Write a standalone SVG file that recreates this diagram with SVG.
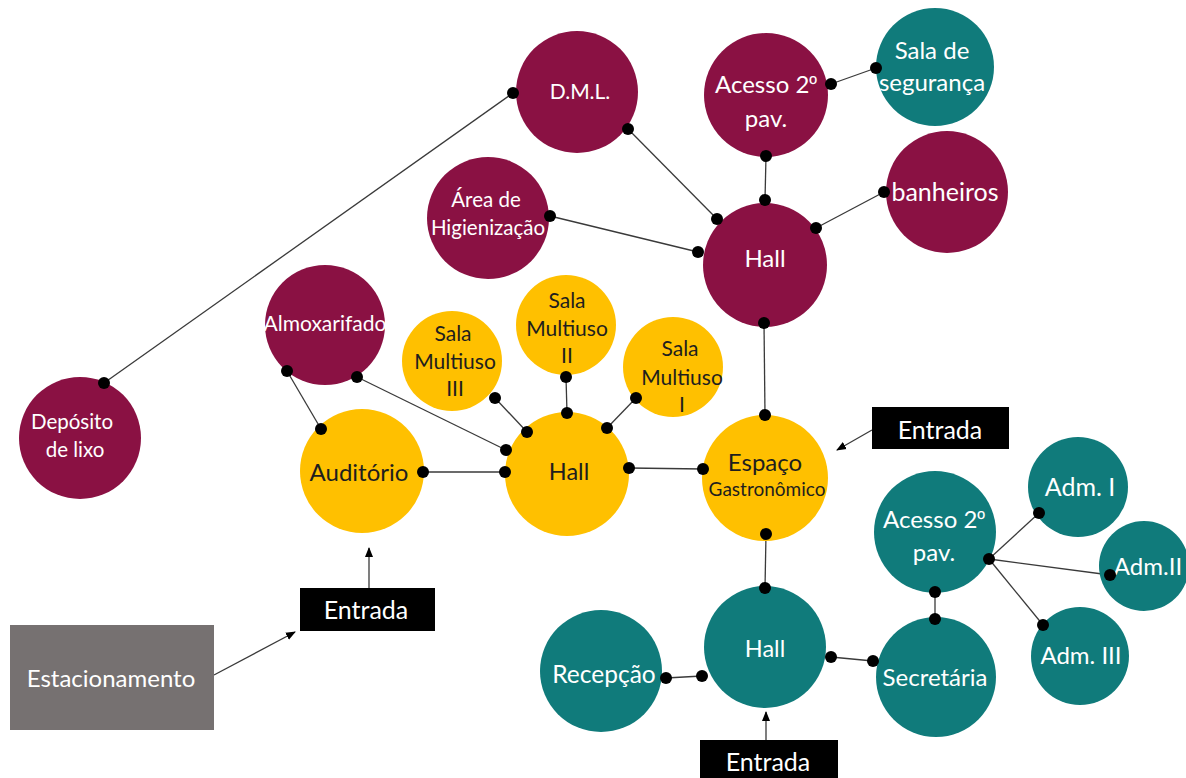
<svg xmlns="http://www.w3.org/2000/svg" width="1186" height="778" viewBox="0 0 1186 778">
<style>
.m{fill:#8A1143}
.y{fill:#FFC000}
.t{fill:#107B7B}
.w{fill:#FFFFFF}
.k{fill:#1E1E1E}
text{font-family:Lato,"Open Sans",sans-serif;text-anchor:middle;dominant-baseline:central}
.o{font-family:"Liberation Sans","DejaVu Sans",sans-serif}
.ln{stroke:#3A3A3A;stroke-width:1.3;fill:none}
.dot{fill:#000}
.box{fill:#000}
</style>
<defs>
<marker id="ah" markerWidth="10" markerHeight="10" refX="9" refY="5" orient="auto" markerUnits="userSpaceOnUse">
<path d="M0,1 L10,5 L0,9 Z" fill="#000"/>
</marker>
</defs>
<rect width="1186" height="778" fill="#fff"/>

<g id="connectors">
<line class="ln" x1="104" y1="383" x2="513" y2="93"/>
<line class="ln" x1="628" y1="129" x2="717" y2="219"/>
<line class="ln" x1="550" y1="216" x2="698" y2="252"/>
<line class="ln" x1="766" y1="156" x2="765" y2="200"/>
<line class="ln" x1="831" y1="84" x2="876" y2="68"/>
<line class="ln" x1="816" y1="228" x2="884" y2="192"/>
<line class="ln" x1="764" y1="323" x2="765" y2="415"/>
<line class="ln" x1="287" y1="371" x2="321" y2="429"/>
<line class="ln" x1="357" y1="377" x2="506" y2="450"/>
<line class="ln" x1="495" y1="398" x2="527" y2="432"/>
<line class="ln" x1="566" y1="377" x2="567" y2="413"/>
<line class="ln" x1="636" y1="398" x2="607" y2="428"/>
<line class="ln" x1="423" y1="472" x2="505" y2="472"/>
<line class="ln" x1="629" y1="468" x2="703" y2="469"/>
<line class="ln" x1="766" y1="534" x2="765" y2="588"/>
<line class="ln" x1="666" y1="678" x2="702" y2="676"/>
<line class="ln" x1="831" y1="657" x2="873" y2="661"/>
<line class="ln" x1="935" y1="592" x2="935" y2="619"/>
<line class="ln" x1="989" y1="559" x2="1039" y2="513"/>
<line class="ln" x1="989" y1="559" x2="1110" y2="575"/>
<line class="ln" x1="989" y1="559" x2="1043" y2="625"/>
<line class="ln" x1="369" y1="588" x2="369" y2="548" marker-end="url(#ah)"/>
<line class="ln" x1="214" y1="675" x2="295" y2="632" marker-end="url(#ah)"/>
<line class="ln" x1="872" y1="430" x2="837" y2="450" marker-end="url(#ah)"/>
<line class="ln" x1="766" y1="740" x2="766" y2="712" marker-end="url(#ah)"/>
</g>

<g id="n-dml"><circle class="m" cx="577" cy="92" r="61"/><text class="w" x="580" y="90" font-size="21">D.M.L.</text></g>
<g id="n-acesso-m"><circle class="m" cx="766" cy="95" r="62"/><text class="w" x="766" y="83" font-size="24">Acesso 2<tspan class="o" font-size="21">º</tspan></text><text class="w" x="766" y="117" font-size="24">pav.</text></g>
<g id="n-seguranca"><circle class="t" cx="935" cy="67" r="59"/><text class="w" x="932" y="49" font-size="24">Sala de</text><text class="w" x="932" y="81" font-size="24">segurança</text></g>
<g id="n-banheiros"><circle class="m" cx="947" cy="192" r="61"/><text class="w" x="945" y="191" font-size="25">banheiros</text></g>
<g id="n-hall-m"><circle class="m" cx="765" cy="265" r="62"/><text class="w" x="765" y="257" font-size="24">Hall</text></g>
<g id="n-area"><circle class="m" cx="488" cy="218" r="61"/><text class="w" x="486" y="199" font-size="20.5">Área de</text><text class="w" x="488" y="227" font-size="20.5">Higienização</text></g>
<g id="n-almox"><circle class="m" cx="325" cy="325" r="60"/><text class="w" x="325" y="322" font-size="21">Almoxarifado</text></g>
<g id="n-deposito"><circle class="m" cx="80" cy="438" r="61"/><text class="w" x="72" y="421" font-size="20.5">Depósito</text><text class="w" x="75" y="449" font-size="20.5">de lixo</text></g>

<g id="n-sala3"><circle class="y" cx="452" cy="361" r="50"/><text class="k" x="453" y="332" font-size="21">Sala</text><text class="k" x="455" y="360" font-size="21">Multiuso</text><text class="k" x="455" y="387" font-size="21">III</text></g>
<g id="n-sala2"><circle class="y" cx="566" cy="325" r="50"/><text class="k" x="567" y="299" font-size="21">Sala</text><text class="k" x="567" y="327" font-size="21">Multiuso</text><text class="k" x="567" y="354" font-size="21">II</text></g>
<g id="n-sala1"><circle class="y" cx="673" cy="367" r="50"/><text class="k" x="680" y="347" font-size="21">Sala</text><text class="k" x="682" y="376" font-size="21">Multiuso</text><text class="k" x="682" y="403" font-size="21">I</text></g>
<g id="n-auditorio"><circle class="y" cx="362" cy="471" r="62"/><text class="k" x="359" y="471" font-size="24">Auditório</text></g>
<g id="n-hall-y"><circle class="y" cx="567" cy="474" r="62"/><text class="k" x="569" y="471" font-size="23.5">Hall</text></g>
<g id="n-espaco"><circle class="y" cx="765" cy="478" r="63"/><text class="k" x="765" y="461" font-size="24">Espaço</text><text class="k" x="767" y="488" font-size="19">Gastronômico</text></g>

<g id="n-hall-t"><circle class="t" cx="765" cy="647" r="61"/><text class="w" x="765" y="648" font-size="23.5">Hall</text></g>
<g id="n-recepcao"><circle class="t" cx="601" cy="671" r="61"/><text class="w" x="604" y="673" font-size="24.5">Recepção</text></g>
<g id="n-secretaria"><circle class="t" cx="936" cy="677" r="60"/><text class="w" x="935" y="676" font-size="24">Secretária</text></g>
<g id="n-acesso-t"><circle class="t" cx="935" cy="532" r="61"/><text class="w" x="934" y="518" font-size="24">Acesso 2<tspan class="o" font-size="21">º</tspan></text><text class="w" x="934" y="551" font-size="24">pav.</text></g>
<g id="n-adm1"><circle class="t" cx="1078" cy="487" r="50"/><text class="w" x="1080" y="486" font-size="25">Adm. I</text></g>
<g id="n-adm2"><circle class="t" cx="1144" cy="566" r="45"/><text class="w" x="1148" y="565" font-size="24">Adm.II</text></g>
<g id="n-adm3"><circle class="t" cx="1080" cy="656" r="49"/><text class="w" x="1081" y="654" font-size="24">Adm. III</text></g>

<g id="n-entrada1"><rect class="box" x="300" y="588" width="135" height="43"/><text class="w" x="366" y="609" font-size="25">Entrada</text></g>
<g id="n-entrada2"><rect class="box" x="872" y="407" width="137" height="42"/><text class="w" x="940" y="429" font-size="25">Entrada</text></g>
<g id="n-entrada3"><rect class="box" x="700" y="740" width="138" height="40"/><text class="w" x="768" y="761" font-size="25">Entrada</text></g>
<g id="n-estacionamento"><rect x="10" y="625" width="204" height="105" fill="#767171"/><text class="w" x="111" y="677" font-size="24">Estacionamento</text></g>

<g id="dots">
<circle class="dot" cx="104" cy="383" r="6"/><circle class="dot" cx="513" cy="93" r="6"/>
<circle class="dot" cx="628" cy="129" r="6"/><circle class="dot" cx="717" cy="219" r="6"/>
<circle class="dot" cx="550" cy="216" r="6"/><circle class="dot" cx="698" cy="252" r="6"/>
<circle class="dot" cx="766" cy="156" r="6"/><circle class="dot" cx="765" cy="200" r="6"/>
<circle class="dot" cx="831" cy="84" r="6"/><circle class="dot" cx="876" cy="68" r="6"/>
<circle class="dot" cx="816" cy="228" r="6"/><circle class="dot" cx="884" cy="192" r="6"/>
<circle class="dot" cx="764" cy="323" r="6"/><circle class="dot" cx="765" cy="415" r="6"/>
<circle class="dot" cx="287" cy="371" r="6"/><circle class="dot" cx="321" cy="429" r="6"/>
<circle class="dot" cx="357" cy="377" r="6"/><circle class="dot" cx="506" cy="450" r="6"/>
<circle class="dot" cx="495" cy="398" r="6"/><circle class="dot" cx="527" cy="432" r="6"/>
<circle class="dot" cx="566" cy="377" r="6"/><circle class="dot" cx="567" cy="413" r="6"/>
<circle class="dot" cx="636" cy="398" r="6"/><circle class="dot" cx="607" cy="428" r="6"/>
<circle class="dot" cx="423" cy="472" r="6"/><circle class="dot" cx="505" cy="472" r="6"/>
<circle class="dot" cx="629" cy="468" r="6"/><circle class="dot" cx="703" cy="469" r="6"/>
<circle class="dot" cx="766" cy="534" r="6"/><circle class="dot" cx="765" cy="588" r="6"/>
<circle class="dot" cx="666" cy="678" r="6"/><circle class="dot" cx="702" cy="676" r="6"/>
<circle class="dot" cx="831" cy="657" r="6"/><circle class="dot" cx="873" cy="661" r="6"/>
<circle class="dot" cx="935" cy="592" r="6"/><circle class="dot" cx="935" cy="619" r="6"/>
<circle class="dot" cx="989" cy="559" r="6"/><circle class="dot" cx="1039" cy="513" r="6"/>
<circle class="dot" cx="1110" cy="575" r="6"/><circle class="dot" cx="1043" cy="625" r="6"/>
</g>
</svg>
